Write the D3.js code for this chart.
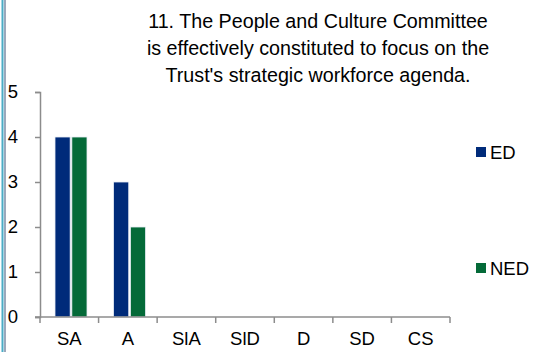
<!DOCTYPE html>
<html>
<head>
<meta charset="utf-8">
<script src="https://cdn.jsdelivr.net/npm/d3@7/dist/d3.min.js"></script>
<style>
  html, body { margin: 0; padding: 0; background: #fff; }
  svg { display: block; font-family: "Liberation Sans", Arial, sans-serif; }
</style>
</head>
<body>
<svg id="chart" width="537" height="352"></svg>
<script>
// Survey responses per rating category
const categories = ["SA", "A", "SlA", "SlD", "D", "SD", "CS"];
const seriesNames = ["ED", "NED"];
const edValues  = [4, 3, 0, 0, 0, 0, 0];
const nedValues = [4, 2, 0, 0, 0, 0, 0];
const yTicks = [0, 1, 2, 3, 4, 5];
const titleLines = [
  "11. The People and Culture Committee",
  "is effectively constituted to focus on the",
  "Trust's strategic workforce agenda."
];
const colors = { ED: "#002b7a", NED: "#046a38" };

const svg = d3.select("#chart");

// Frame lines on the left edge
svg.append("line").attr("x1", 2.5).attr("x2", 2.5).attr("y1", 0).attr("y2", 352)
  .attr("stroke", "#4bacc6").attr("stroke-width", 2);
svg.append("line").attr("x1", 5).attr("x2", 5).attr("y1", 0).attr("y2", 352)
  .attr("stroke", "#5a6f8f").attr("stroke-width", 1.2);

const plot = { left: 40, right: 450, top: 92, bottom: 317 };

const x = d3.scaleBand().domain(categories).range([plot.left, plot.right]).padding(0);
const y = d3.scaleLinear().domain([0, 5]).range([plot.bottom, plot.top]);
const inner = d3.scaleBand().domain(seriesNames)
  .range([15, 15 + 32]).paddingInner(0.1);

// Title
svg.append("g").selectAll("text").data(titleLines).join("text")
  .attr("x", 318).attr("y", (d, i) => 28 + i * 27)
  .attr("text-anchor", "middle")
  .attr("font-size", 19.7).attr("fill", "#000")
  .text(d => d);

// Bars
const rows = categories.map((c, i) => ({ cat: c, ED: edValues[i], NED: nedValues[i] }));
const groups = svg.append("g").selectAll("g").data(rows).join("g")
  .attr("transform", d => `translate(${x(d.cat)},0)`);
groups.selectAll("rect")
  .data(d => seriesNames.map(s => ({ s, v: d[s] })).filter(e => e.v > 0))
  .join("rect")
  .attr("x", d => inner(d.s))
  .attr("width", inner.bandwidth())
  .attr("y", d => y(d.v))
  .attr("height", d => y(0) - y(d.v))
  .attr("fill", d => colors[d.s])
  .attr("stroke", "#e8eef5").attr("stroke-width", 0.8);

// Y axis
const yAxis = svg.append("g").attr("transform", `translate(${plot.left},0)`)
  .call(d3.axisLeft(y).tickValues(yTicks).tickFormat(d3.format("d")).tickSize(5).tickPadding(17));
yAxis.select(".domain").attr("stroke", "#8c8c8c").attr("stroke-width", 1.5);
yAxis.selectAll(".tick line").attr("stroke", "#8c8c8c").attr("stroke-width", 1.5);
yAxis.selectAll(".tick text").attr("font-size", 18.5).attr("fill", "#000")
  .attr("font-family", "Liberation Sans, Arial, sans-serif");

// X axis with ticks at band boundaries
const xAxisG = svg.append("g").attr("transform", `translate(0,${plot.bottom})`);
xAxisG.append("line").attr("x1", plot.left - 5).attr("x2", plot.right)
  .attr("stroke", "#8c8c8c").attr("stroke-width", 1.5);
const boundaries = categories.map(c => x(c)).concat([x.range()[1]]);
xAxisG.selectAll("line.tk").data(boundaries).join("line").attr("class", "tk")
  .attr("x1", d => d).attr("x2", d => d).attr("y1", 0).attr("y2", 6)
  .attr("stroke", "#8c8c8c").attr("stroke-width", 1.5);
xAxisG.selectAll("text").data(categories).join("text")
  .attr("x", d => x(d) + x.bandwidth() / 2)
  .attr("y", 28)
  .attr("text-anchor", "middle")
  .attr("font-size", 18.5).attr("fill", "#000")
  .text(d => d);

// Legend
const legendY = { ED: 152, NED: 268 };
const legend = svg.append("g").selectAll("g").data(seriesNames).join("g")
  .attr("transform", d => `translate(476,${legendY[d]})`);
legend.append("rect").attr("x", 0).attr("y", -5).attr("width", 10).attr("height", 10)
  .attr("fill", d => colors[d]);
legend.append("text").attr("x", 14).attr("y", 6.5)
  .attr("font-size", 18.5).attr("fill", "#000").text(d => d);
</script>
</body>
</html>
